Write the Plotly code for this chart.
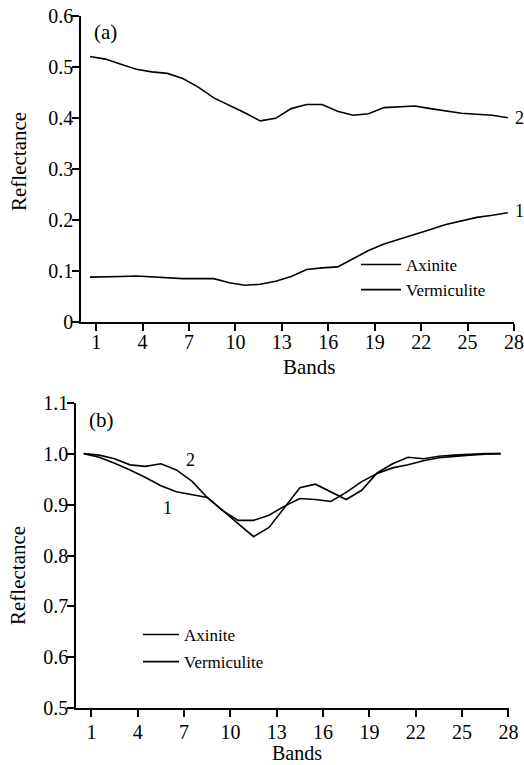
import plotly.graph_objects as go

# ---------------- data ----------------
bands = list(range(1, 29))

# panel (a): raw reflectance
axinite_a = [0.088, 0.088, 0.089, 0.090, 0.088, 0.086, 0.085, 0.085, 0.085, 0.077,
             0.072, 0.074, 0.080, 0.089, 0.103, 0.106, 0.108, 0.124, 0.140, 0.153,
             0.162, 0.171, 0.181, 0.191, 0.198, 0.205, 0.209, 0.214]
vermiculite_a = [0.520, 0.515, 0.505, 0.495, 0.490, 0.487, 0.477, 0.460, 0.439, 0.425,
                 0.410, 0.394, 0.399, 0.418, 0.426, 0.426, 0.413, 0.405, 0.408, 0.420,
                 0.422, 0.423, 0.418, 0.413, 0.409, 0.407, 0.405, 0.400]

# panel (b): normalised reflectance
axinite_b = [1.000, 0.993, 0.981, 0.968, 0.953, 0.937, 0.925, 0.920, 0.914, 0.888,
             0.869, 0.869, 0.879, 0.897, 0.912, 0.910, 0.906, 0.924, 0.945, 0.961,
             0.972, 0.978, 0.986, 0.992, 0.995, 0.997, 0.999, 1.000]
vermiculite_b = [1.000, 0.997, 0.990, 0.978, 0.975, 0.980, 0.968, 0.946, 0.914, 0.888,
                 0.863, 0.837, 0.855, 0.895, 0.933, 0.940, 0.925, 0.910, 0.928, 0.962,
                 0.980, 0.993, 0.990, 0.995, 0.997, 0.999, 1.000, 1.000]

tick_bands = [1, 4, 7, 10, 13, 16, 19, 22, 25, 28]
tick_labels = [str(b) for b in tick_bands]
y_ticks_a = [0, 0.1, 0.2, 0.3, 0.4, 0.5, 0.6]
y_labels_a = ["0", "0.1", "0.2", "0.3", "0.4", "0.5", "0.6"]
y_ticks_b = [0.5, 0.6, 0.7, 0.8, 0.9, 1.0, 1.1]
y_labels_b = ["0.5", "0.6", "0.7", "0.8", "0.9", "1.0", "1.1"]

series_names = ["Axinite", "Vermiculite"]

# ---------------- layout helpers ----------------
W, H = 524, 765
FONT = "Liberation Serif"


def px(x):
    return x / W


def py(y):
    return 1 - y / H


line_style = dict(color="black", width=1.6)

fig = go.Figure()
fig.add_trace(go.Scatter(x=bands, y=axinite_a, mode="lines", line=line_style,
                         name=series_names[0], xaxis="x", yaxis="y", legend="legend"))
fig.add_trace(go.Scatter(x=bands, y=vermiculite_a, mode="lines", line=line_style,
                         name=series_names[1], xaxis="x", yaxis="y", legend="legend"))
fig.add_trace(go.Scatter(x=bands, y=axinite_b, mode="lines", line=line_style,
                         name=series_names[0], xaxis="x2", yaxis="y2", legend="legend2",
                         legendgroup="g1"))
fig.add_trace(go.Scatter(x=bands, y=vermiculite_b, mode="lines", line=line_style,
                         name=series_names[1], xaxis="x2", yaxis="y2", legend="legend2",
                         legendgroup="g2"))

axis_common = dict(showline=True, linecolor="black", linewidth=1.5, ticks="outside",
                   ticklen=7, tickwidth=1.5, tickcolor="black", showgrid=False,
                   zeroline=False, automargin=False,
                   tickfont=dict(family=FONT, size=20, color="black"))

off_a = 0.4
off_b = 0.5

fig.update_layout(
    width=W, height=H,
    margin=dict(l=0, r=0, t=0, b=0, autoexpand=False),
    paper_bgcolor="white", plot_bgcolor="white",
    font=dict(family=FONT, color="black"),
    xaxis=dict(domain=[px(81), px(514.3)], anchor="y", range=[0.42, 28.42],
               tickvals=[b + off_a for b in tick_bands], ticktext=tick_labels,
               ticklabelstandoff=-6, **axis_common),
    yaxis=dict(domain=[py(322), py(15.7)], anchor="x", range=[0, 0.6],
               tickvals=y_ticks_a, ticktext=y_labels_a, ticklabelstandoff=-5, **axis_common),
    xaxis2=dict(domain=[px(76), px(508.7)], anchor="y2", range=[0.5, 28.52],
                tickvals=[b + off_b for b in tick_bands], ticktext=tick_labels,
                ticklabelstandoff=-2, **axis_common),
    yaxis2=dict(domain=[py(708.3), py(402.7)], anchor="x2", range=[0.5, 1.1],
                tickvals=y_ticks_b, ticktext=y_labels_b, ticklabelstandoff=-5, **axis_common),
    legend=dict(x=px(356), y=py(247), xanchor="left", yanchor="top", itemwidth=40,
                bgcolor="rgba(0,0,0,0)", font=dict(family=FONT, size=17, color="black")),
    legend2=dict(x=px(138), y=py(617), xanchor="left", yanchor="top", itemwidth=36,
                 bgcolor="rgba(0,0,0,0)", traceorder="grouped", tracegroupgap=2,
                 font=dict(family=FONT, size=17, color="black")),
    showlegend=True,
)

ann_font = dict(family=FONT, size=21, color="black")
lab_font = dict(family=FONT, size=18, color="black")
annotations = [
    dict(text="Reflectance", x=px(19), y=py(162), textangle=-90, font=ann_font),
    dict(text="Reflectance", x=px(18), y=py(576), textangle=-90, font=ann_font),
    dict(text="Bands", x=px(309), y=py(367), font=ann_font),
    dict(text="Bands", x=px(297), y=py(753), font=dict(family=FONT, size=20, color="black")),
    dict(text="(a)", x=px(105), y=py(32), font=ann_font),
    dict(text="(b)", x=px(101), y=py(420), font=ann_font),
    dict(text="2", x=px(519.5), y=py(118), font=lab_font),
    dict(text="1", x=px(519.5), y=py(211), font=lab_font),
]
for a in annotations:
    a.update(xref="paper", yref="paper", showarrow=False, xanchor="center", yanchor="middle")
annotations += [
    dict(text="2", x=7.9, y=0.9875, xref="x2", yref="y2", showarrow=False,
         xanchor="center", yanchor="middle", font=lab_font),
    dict(text="1", x=6.4, y=0.893, xref="x2", yref="y2", showarrow=False,
         xanchor="center", yanchor="middle", font=lab_font),
]
fig.update_layout(annotations=annotations)

fig.write_html("out.html", config={"displayModeBar": False},
               post_script="document.body.style.margin='0';")
